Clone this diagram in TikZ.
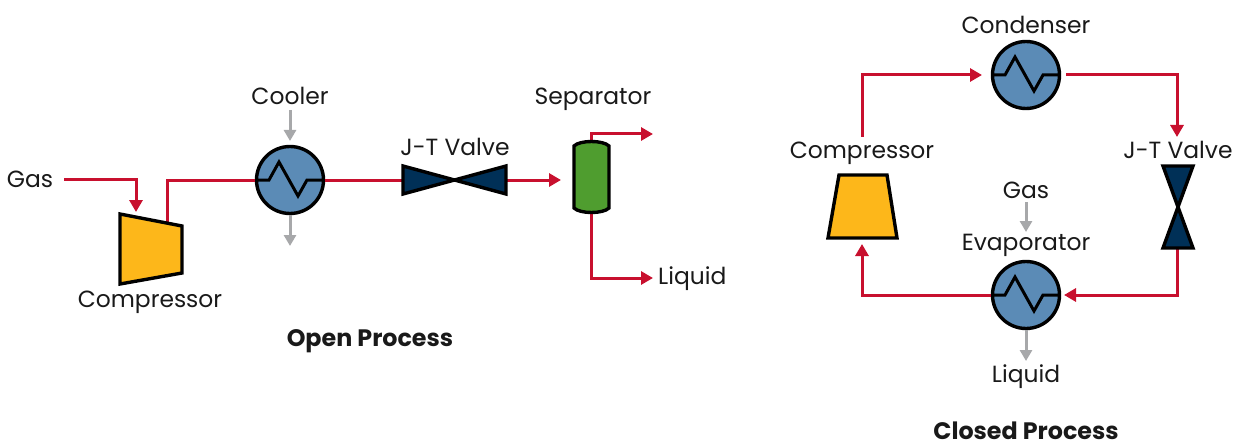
\documentclass[tikz,border=0pt]{standalone}
\usepackage{fontspec}
\setmainfont{Poppins}
\usetikzlibrary{arrows.meta}
\definecolor{HXblue}{RGB}{91,139,182}
\definecolor{CompOrange}{RGB}{253,183,26}
\definecolor{ValveNavy}{RGB}{0,48,87}
\definecolor{SepGreen}{RGB}{79,157,47}
\definecolor{FlowRed}{RGB}{200,16,46}
\definecolor{UtilGray}{RGB}{167,168,170}
\tikzset{
	lbl/.style={anchor=base,inner sep=0pt,text=black!90,font=\fontsize{23.4}{26}\selectfont},
	ttl/.style={lbl,font=\fontsize{23.8}{26}\selectfont\bfseries},
	hx/.style={circle,draw=black,line width=3.4pt,fill=HXblue,minimum size=67pt,inner sep=0pt},
	unit/.style={draw=black,line width=3.4pt,line join=miter},
	flow/.style={draw=FlowRed,line width=3pt,-{Triangle[length=12pt,width=13pt]}},
	flowin/.style={draw=FlowRed,line width=3pt},
	util/.style={draw=UtilGray,line width=3pt,-{Triangle[length=11pt,width=12pt]}}
}
\begin{document}
\begin{tikzpicture}[x=1pt,y=-1pt]
\useasboundingbox (0,0) rectangle (1239,441);
% red lines under the units
\coordinate (compOutA) at (167,225);
\coordinate (valveAw) at (403,180);
\coordinate (valveAe) at (506,180);
\coordinate (sepTop) at (591,141);
\coordinate (sepBot) at (591,213);
\coordinate (sepIn) at (561,180);
\coordinate (topEnd) at (653,134);
\coordinate (botEnd) at (653,278);
\coordinate (compTop) at (862,137);
\coordinate (compBot) at (862,244);
\coordinate (valveBs) at (1177,248);
\coordinate (valveBn) at (1177,137);
\coordinate (gasIn) at (136,212);
% heat exchangers
\foreach \N/\X/\Y in {cooler/290/180,condenser/1026/75,evaporator/1026/295}
{\node[hx] (\N) at (\X,\Y) {};
\draw[line width=3pt,line join=miter] (\X-33,\Y) -- (\X-21,\Y) -- (\X-11,\Y-18) -- (\X+8,\Y+16) -- (\X+17,\Y) -- (\X+33,\Y);
}
% open process
\node[lbl] (gas) at (30,187) {Gas};
\node[lbl] (cooltxt) at (290,105) {Cooler};
\node[lbl] (comptxt) at (150,307) {Compressor};
\node[lbl] (valvetxt) at (455,156) {J-T Valve};
\node[lbl] (septxt) at (593,105) {Separator};
\node[lbl,anchor=base west] (liqtxt) at (658,284) {Liquid};
\node[ttl] (opentxt) at (370,346) {Open Process};
\draw[flow] (64,179) -| (gasIn);
\draw[flowin] (compOutA) |- (cooler.west);
\draw[flowin] (cooler.east) -- (valveAw);
\draw[flow] (valveAe) -- (sepIn);
\draw[flow] (sepTop) |- (topEnd);
\draw[flow] (sepBot) |- (botEnd);
\draw[util] (290,110) -- (290,141);
\draw[util] (cooler.south) -- (290,246);
\draw[unit,fill=CompOrange] (120,214) -- (182,226) -- (182,273) -- (120,284) -- cycle;
\draw[unit,fill=ValveNavy] (403,166) -- (506,194) -- (506,166) -- (403,194) -- cycle;
\draw[unit,fill=SepGreen] (574,146) .. controls (580,140) and (603,140) .. (609,146) -- (609,208) .. controls (603,214) and (580,214) .. (574,208) -- cycle;
% closed process
\node[lbl] (condtxt) at (1026,34) {Condenser};
\node[lbl] (compbtxt) at (862,158) {Compressor};
\node[lbl] (valvebtxt) at (1178,158) {J-T Valve};
\node[lbl] (gasb) at (1026,198) {Gas};
\node[lbl] (evaptxt) at (1026,250) {Evaporator};
\node[lbl] (liqb) at (1026,382) {Liquid};
\node[ttl] (closedtxt) at (1026,439) {Closed Process};
\draw[flow] (compTop) |- (982,75);
\draw[flow] (1066,75) -| (valveBn);
\draw[flow] (valveBs) |- (1064,295);
\draw[flow] (evaporator.west) -| (compBot);
\draw[util] (1026,202) -- (1026,232);
\draw[util] (evaporator.south) -- (1026,361);
\draw[unit,fill=CompOrange] (839,175) -- (887,175) -- (897,238) -- (828,238) -- cycle;
\draw[unit,fill=ValveNavy] (1163,166) -- (1193,166) -- (1163,248) -- (1193,248) -- cycle;
\end{tikzpicture}
\end{document}
